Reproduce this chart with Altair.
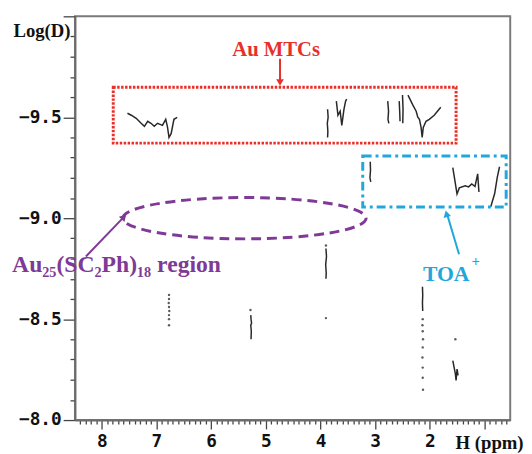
import altair as alt
import pandas as pd

# ---------------- spectral traces (1H ppm, log D) ----------------
t1_ppm = [7.53, 7.46, 7.37, 7.28, 7.22, 7.16, 7.10, 7.04, 6.98, 6.89, 6.83, 6.80, 6.77, 6.73, 6.68, 6.62]
t1_logd = [-9.52, -9.51, -9.495, -9.47, -9.455, -9.48, -9.47, -9.455, -9.47, -9.46, -9.49, -9.455, -9.40, -9.42, -9.49, -9.50]
t2_ppm = [3.87, 3.86, 3.875, 3.865, 3.87]
t2_logd = [-9.54, -9.50, -9.47, -9.43, -9.40]
t3_ppm = [3.71, 3.68, 3.64, 3.61, 3.57, 3.54, 3.52]
t3_logd = [-9.58, -9.51, -9.53, -9.46, -9.54, -9.58, -9.59]
t4_ppm = [2.77, 2.755, 2.765, 2.75]
t4_logd = [-9.58, -9.53, -9.49, -9.47]
t5_ppm = [2.56, 2.55, 2.545]
t5_logd = [-9.58, -9.52, -9.48]
t6_ppm = [2.50, 2.49, 2.495]
t6_logd = [-9.61, -9.54, -9.47]
t7_ppm = [2.40, 2.31, 2.25, 2.22, 2.19, 2.16, 2.14, 2.12, 2.07, 2.01, 1.92, 1.83, 1.80]
t7_logd = [-9.61, -9.56, -9.53, -9.50, -9.49, -9.45, -9.40, -9.45, -9.48, -9.49, -9.51, -9.54, -9.55]
t8_ppm = [3.09, 3.085, 3.095, 3.08]
t8_logd = [-9.28, -9.24, -9.20, -9.18]
t9_ppm = [1.58, 1.544, 1.503, 1.461, 1.353, 1.292, 1.233, 1.174, 1.125, 1.102]
t9_logd = [-9.25, -9.19, -9.12, -9.15, -9.16, -9.155, -9.17, -9.157, -9.22, -9.13]
t10_ppm = [0.886, 0.814, 0.766, 0.725]
t10_logd = [-9.057, -9.122, -9.203, -9.255]
t11_ppm = [3.90, 3.89, 3.905, 3.895, 3.90]
t11_logd = [-8.85, -8.81, -8.77, -8.73, -8.70]
t12_ppm = [2.135, 2.13, 2.135, 2.13]
t12_logd = [-8.66, -8.62, -8.58, -8.54]
t13_ppm = [1.58, 1.533, 1.52, 1.502, 1.484]
t13_logd = [-8.294, -8.229, -8.196, -8.253, -8.221]
t14_ppm = [5.275, 5.27, 5.26, 5.275, 5.265, 5.27]
t14_logd = [-8.52, -8.50, -8.48, -8.47, -8.44, -8.40]

# isolated weak cross-peaks (dots)
dot_ppm = [2.13, 2.135, 2.13, 2.125, 2.13, 2.135, 2.13, 2.13, 2.125,
           6.77, 6.77, 6.775, 6.77, 6.765, 6.77, 6.77, 6.77,
           3.90, 1.533, 5.28, 3.90]
dot_logd = [-8.50, -8.47, -8.44, -8.40, -8.36, -8.31, -8.26, -8.21, -8.15,
            -8.62, -8.60, -8.58, -8.56, -8.54, -8.52, -8.50, -8.47,
            -8.505, -8.40, -8.545, -8.865]

# ---------------- annotations ----------------
box_ppm = [7.79, 3.227]
box_ppm2 = [1.52, 0.604]
box_logd = [-9.649, -9.308]
box_logd2 = [-9.372, -9.055]
box_color = ["#E8302A", "#22A7DD"]

ell_ppm = [5.39]
ell_logd = [-9.0]

arrow_ppm = [4.74, 8.29, 1.466]
arrow_logd = [-9.79, -8.81, -8.821]
arrow_ppm2 = [4.74, 7.58, 1.69]
arrow_logd2 = [-9.665, -9.01, -9.025]
arrow_color = ["#E8302A", "#7E3A96", "#22A7DD"]
head_ppm = [4.74, 7.594, 1.695]
head_logd = [-9.672, -9.006, -9.022]
head_angle = [180, 44, 346]

label_text = ["Au MTCs", "TOA", "+", "Au\u2082\u2085(SC\u2082Ph)\u2081\u2088 region"]
label_ppm = [4.81, 1.70, 1.16, 9.64]
label_logd = [-9.805, -8.69, -8.765, -8.734]
label_color = ["#E8302A", "#22A7DD", "#22A7DD", "#7E3A96"]
label_size = [21, 22, 15, 24]
label_align = ["center", "center", "center", "left"]

# axis tick positions (0.1 steps; majors at integers / half units)
x_ticks = [round(8.4 - 0.1 * i, 1) for i in range(79)]
y_ticks = [round(-10.0 + 0.1 * i, 1) for i in range(21)]

# ---------------- data frames ----------------
traces = [(t1_ppm, t1_logd), (t2_ppm, t2_logd), (t3_ppm, t3_logd), (t4_ppm, t4_logd),
          (t5_ppm, t5_logd), (t6_ppm, t6_logd), (t7_ppm, t7_logd), (t8_ppm, t8_logd),
          (t9_ppm, t9_logd), (t10_ppm, t10_logd), (t11_ppm, t11_logd), (t12_ppm, t12_logd),
          (t13_ppm, t13_logd), (t14_ppm, t14_logd)]
rows = []
for k, (xs, ys) in enumerate(traces):
    for i, (a, b) in enumerate(zip(xs, ys)):
        rows.append({"trace": k, "i": i, "ppm": a, "logd": b})
trace_df = pd.DataFrame(rows)
dot_df = pd.DataFrame({"ppm": dot_ppm, "logd": dot_logd})
box_df = pd.DataFrame({"ppm": box_ppm, "ppm2": box_ppm2, "logd": box_logd,
                       "logd2": box_logd2, "color": box_color})
ell_df = pd.DataFrame({"ppm": ell_ppm, "logd": ell_logd})
arrow_df = pd.DataFrame({"ppm": arrow_ppm, "ppm2": arrow_ppm2, "logd": arrow_logd,
                         "logd2": arrow_logd2, "color": arrow_color})
head_df = pd.DataFrame({"ppm": head_ppm, "logd": head_logd, "angle": head_angle,
                        "color": arrow_color})
label_df = pd.DataFrame({"text": label_text, "ppm": label_ppm, "logd": label_logd,
                         "color": label_color, "size": label_size, "align": label_align})

# ---------------- scales / axes ----------------
xscale = alt.Scale(domain=[8.49, 0.53], nice=False, zero=False)
yscale = alt.Scale(domain=[-8.0, -10.0], nice=False, zero=False)

xaxis = alt.Axis(
    values=x_ticks,
    labelExpr="(abs(datum.value - round(datum.value)) < 0.01 && datum.value > 1.5) ? format(datum.value, 'd') : ''",
    tickSize={"condition": {"test": "abs(datum.value - round(datum.value)) < 0.01", "value": 9}, "value": 4},
    labelOverlap=False, grid=False, labelPadding=4,
    labelFont="DejaVu Sans Mono", labelFontWeight="bold", labelFontSize=18, labelColor="#111",
    domainColor="#6b6b6b", domainWidth=2, tickColor="#444", tickWidth=1.3,
    title="H (ppm)", titleFont="Liberation Serif", titleFontWeight="bold", titleFontSize=19,
    titleColor="#111", titleX=386, titleY=29, titleAlign="left", titleBaseline="alphabetic",
    titleAngle=0,
)
yaxis = alt.Axis(
    values=y_ticks,
    labelExpr="(abs(datum.value * 2 - round(datum.value * 2)) < 0.01 && datum.value > -9.9) ? format(datum.value, '.1f') : ''",
    tickSize={"condition": {"test": "abs(datum.value * 2 - round(datum.value * 2)) < 0.01", "value": 12}, "value": 5},
    labelOverlap=False, grid=False, labelPadding=2,
    labelFont="DejaVu Sans Mono", labelFontWeight="bold", labelFontSize=18, labelColor="#111",
    domainColor="#6b6b6b", domainWidth=2, tickColor="#444", tickWidth=1.3,
    title="Log(D)", titleFont="Liberation Serif", titleFontWeight="bold", titleFontSize=19,
    titleColor="#111", titleX=-63, titleY=20, titleAlign="left", titleBaseline="alphabetic",
    titleAngle=0,
)


def X(field="ppm"):
    return alt.X(f"{field}:Q", scale=xscale, axis=xaxis)


def Y(field="logd"):
    return alt.Y(f"{field}:Q", scale=yscale, axis=yaxis)


lines = alt.Chart(trace_df).mark_line(color="#111", strokeWidth=1.5, opacity=0.9).encode(
    x=X(), y=Y(), detail="trace:N", order="i:Q")

dots = alt.Chart(dot_df).mark_circle(color="#333", size=6, opacity=0.8).encode(x=X(), y=Y())

boxes_red = alt.Chart(box_df.iloc[[0]]).mark_rect(
    fillOpacity=0, stroke="#E8302A", strokeWidth=3, strokeDash=[2.5, 1.5]).encode(
    x=X(), x2="ppm2:Q", y=Y(), y2="logd2:Q")
boxes_blue = alt.Chart(box_df.iloc[[1]]).mark_rect(
    fillOpacity=0, stroke="#22A7DD", strokeWidth=3, strokeDash=[9, 4, 3, 4]).encode(
    x=X(), x2="ppm2:Q", y=Y(), y2="logd2:Q")

ellipse_path = ("M -1 0 C -1 -0.094 -0.552 -0.17 0 -0.17 C 0.552 -0.17 1 -0.094 1 0 "
                "C 1 0.094 0.552 0.17 0 0.17 C -0.552 0.17 -1 0.094 -1 0 Z")
ellipse = alt.Chart(ell_df).mark_point(
    shape=ellipse_path, size=247 * 247, filled=False, stroke="#7E3A96", strokeWidth=3,
    strokeDash=[10, 6], opacity=1).encode(x=X(), y=Y())

arrows = alt.Chart(arrow_df).mark_rule(strokeWidth=2).encode(
    x=X(), x2="ppm2:Q", y=Y(), y2="logd2:Q",
    color=alt.Color("color:N", scale=None))
heads = alt.Chart(head_df).mark_point(shape="triangle-up", filled=True, size=60, opacity=1).encode(
    x=X(), y=Y(), angle=alt.Angle("angle:Q", scale=None),
    color=alt.Color("color:N", scale=None))

texts_center = alt.Chart(label_df).transform_filter("datum.align == 'center'").mark_text(
    font="Liberation Serif", fontWeight="bold", baseline="alphabetic", align="center").encode(
    x=X(), y=Y(), text="text:N",
    color=alt.Color("color:N", scale=None),
    size=alt.Size("size:Q", scale=None))
texts_left = alt.Chart(label_df).transform_filter("datum.align == 'left'").mark_text(
    font="Liberation Serif", fontWeight="bold", baseline="alphabetic", align="left").encode(
    x=X(), y=Y(), text="text:N",
    color=alt.Color("color:N", scale=None),
    size=alt.Size("size:Q", scale=None))

chart = alt.layer(lines, dots, boxes_red, boxes_blue, ellipse, arrows, heads,
                  texts_center, texts_left).properties(
    width=442, height=410,
    autosize=alt.AutoSizeParams(type="none"),
    padding={"left": 68, "top": 5, "right": 14, "bottom": 31},
    background="white",
).configure_view(stroke="#7a7a7a", strokeWidth=2)

chart.save("out.html", embed_options={"renderer": "svg", "actions": False})
